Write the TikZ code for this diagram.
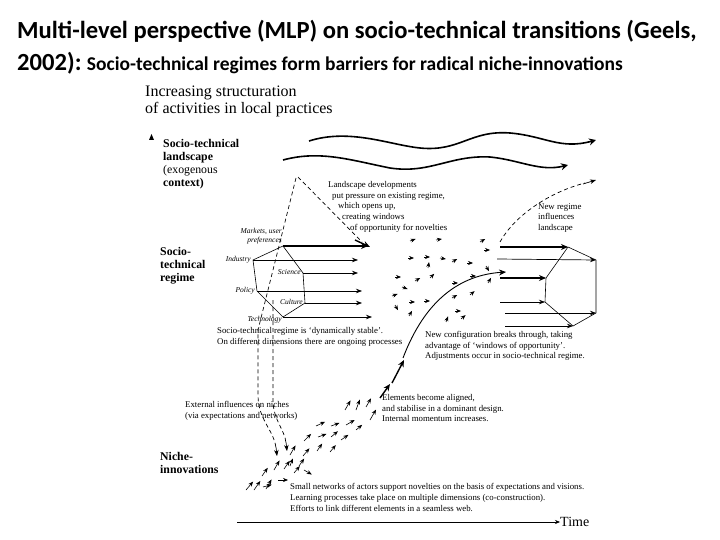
\documentclass[tikz,border=0pt]{standalone}
\usepackage{fontspec}
\setmainfont{Liberation Serif}
\newfontfamily\titlefont{Carlito}
\usetikzlibrary{arrows.meta,calc}
\begin{document}
\begin{tikzpicture}[x=1pt,y=-1pt,
  sm/.style={font=\fontsize{8.8}{10.8}\selectfont,align=left,anchor=north west,inner sep=0pt},
  lvl/.style={font=\fontsize{11.8}{13}\selectfont\bfseries,align=left,anchor=north west,inner sep=0pt},
  it/.style={font=\fontsize{7.5}{9}\selectfont\itshape,inner sep=0pt},
  arr/.style={-{Stealth[length=6pt,width=4.5pt]},line width=0.7pt},
  tarr/.style={-{Stealth[length=7pt,width=6pt]},line width=1.4pt},
  darr/.style={dashed,dash pattern=on 4pt off 3pt,line width=0.7pt},
  tiny/.style={-{Stealth[length=5pt,width=4pt]},line width=0.6pt}]
\useasboundingbox (0,0) rectangle (720,540);
% title
\node[anchor=west,inner sep=0pt,font=\titlefont\bfseries\fontsize{24.6}{28}\selectfont] (t1) at (17,31) {Multi-level perspective (MLP) on socio-technical transitions (Geels,};
\node[anchor=west,inner sep=0pt,font=\titlefont\bfseries\fontsize{24.6}{28}\selectfont] (t2) at (17,63) {2002):};
\node[anchor=base west,inner sep=0pt,font=\titlefont\bfseries\fontsize{19.5}{22}\selectfont] (t3) at ($(t2.base east)+(5,0)$) {Socio-technical regimes form barriers for radical niche-innovations};
% axis labels
\node[anchor=north west,inner sep=0pt,font=\fontsize{16}{16.5}\selectfont,align=left] (yl) at (145,86) {Increasing structuration\\of activities in local practices};
\fill (149,140) -- (151.5,134) -- (154,140) -- cycle;
\node[lvl] (land) at (163,139) {Socio-technical\\landscape\\{\mdseries(exogenous}\\context)};
\node[lvl] (reg) at (160,247) {Socio-\\technical\\regime};
\node[lvl] (niche) at (160,452) {Niche-\\innovations};
% waves
\draw[line width=1.6pt,-{Stealth[length=7pt,width=7pt]}] (309,141) .. controls (350,128) and (390,145) .. (420,148) .. controls (460,152) and (470,130) .. (510,133) .. controls (545,136) and (560,150) .. (596,140);
\draw[line width=1.6pt,-{Stealth[length=7pt,width=7pt]}] (283,160) .. controls (320,150) and (350,160) .. (390,168) .. controls (430,174) and (450,155) .. (490,157) .. controls (520,160) and (540,172) .. (568,165);
% landscape text
\node[sm] (ltx) at (328,181) {Landscape developments\\\hspace*{4pt}put pressure on existing regime,\\\hspace*{10pt}which opens up,\\\hspace*{14pt}creating windows\\\hspace*{22pt}of opportunity for novelties};
% dashed from landscape
\coordinate (apex) at (296,178);
\draw[darr] (apex) -- (258,330) -- (258,395) .. controls (258,420) and (274,430) .. (276,448);
\draw[arr] (276,447) -- (277,456);
\draw[darr] (273,300) -- (273,400) .. controls (273,420) and (285,430) .. (286,443);
\draw[arr] (286,442) -- (287,451);
\draw[darr] (298,177) -- (362,242);
\draw[tarr] (355,240) -- (370,247);
% left hexagon
\coordinate (m) at (283,246); \coordinate (i) at (253,260); \coordinate (s) at (303,273);
\coordinate (p) at (257,291); \coordinate (c) at (305,303); \coordinate (te) at (283,317);
\draw[line width=0.6pt] (m) -- (i) -- (p) -- (te) -- (c) -- (s) -- (m);
\draw[tarr] (m) -- (368,246);
\draw[arr] (i) -- (358,260);
\draw[arr] (s) -- (358,273);
\draw[arr] (p) -- (362,291);
\draw[arr] (c) -- (362,303);
\draw[arr] (te) -- (372,317);
\node[it,anchor=south east,align=right] at (282,244) {Markets, user\\preferences};
\node[it,anchor=east] at (251,260) {Industry};
\node[it,anchor=east] at (301,272) {Science};
\node[it,anchor=east] at (255,291) {Policy};
\node[it,anchor=east] at (303,302) {Culture};
\node[it,anchor=east] at (282,320) {Technology};
\node[sm] (stab) at (217,327) {Socio-technical regime is `dynamically stable'.\\On different dimensions there are ongoing processes};
% scattered arrows
\foreach \x/\y/\a in {410/241/20,436/240/10,408/258/0,424/257/0,440/258/-10,452/262/30,467/263/0,480/242/30,484/250/0,486/266/-60,
  395/277/0,415/281/30,430/278/45,452/283/0,470/276/0,488/283/60,392/296/20,409/302/0,424/301/0,452/298/30,470/295/40,
  395/305/-60,409/316/60,455/311/0,461/319/40,446/322/70,428/268/80,402/287/-20}
  \draw[tiny] (\x,\y) -- ++(-\a:6);
% right hexagon
\coordinate (r1) at (568,247); \coordinate (r2) at (596,260); \coordinate (r3) at (596,313);
\coordinate (r4) at (573,326); \coordinate (r5) at (545,302); \coordinate (r6) at (546,278);
\draw[line width=0.6pt] (r1) -- (r2) -- (r3) -- (r4) -- (r5) -- (r6) -- (r1);
\draw[tarr] (500,247) -- (r1);
\draw[arr] (497,259) -- (r2);
\draw[tarr] (500,278) -- (r6);
\draw[arr] (500,302) -- (r5);
\draw[arr] (505,313) -- (r3);
\draw[arr] (505,326) -- (r4);
% new regime dashed
\draw[darr] (500,242) .. controls (515,215) and (550,192) .. (585,183);
\draw[arr] (583,184) -- (596,180);
\node[sm] (nr) at (538,203) {New regime\\influences\\landscape};
% main curve
\draw[line width=0.9pt,-{Stealth[length=7pt,width=6pt]}] (403,358) .. controls (425,300) and (460,275) .. (506,272);
\draw[tarr] (392,383) -- (404,360);
\draw[tarr] (380,398) -- (390,384);
\node[sm] (nc) at (425,331) {New configuration breaks through, taking\\advantage of `windows of opportunity'.\\Adjustments occur in socio-technical regime.};
\node[sm] (ext) at (185,401) {External influences on niches\\(via expectations and networks)};
\node[sm] (al) at (382,394) {Elements become aligned,\\and stabilise in a dominant design.\\Internal momentum increases.};
% niche arrows
\foreach \x/\y/\a/\l in {246/490/50/11,254/490/55/11,266/489/60/11,263/487/15/9,278/480/0/10,262/476/55/10,274/470/60/11,284/469/55/10,
  294/473/50/9,299/466/55/9,304/470/-30/9,290/455/60/11,303/456/50/10,317/451/55/9,330/452/50/9,304/441/45/10,318/437/20/9,
  331/437/40/9,341/440/35/9,316/426/25/10,331/426/20/9,346/425/30/10,356/430/40/8,345/410/60/11,356/410/70/11,366/407/60/10,
  370/420/60/12,290/466/70/8}
  \draw[tiny] (\x,\y) -- ++(-\a:\l);
\node[sm] (sn) at (290,483) {Small networks of actors support novelties on the basis of expectations and visions.\\Learning processes take place on multiple dimensions (co-construction).\\Efforts to link different elements in a seamless web.};
% time axis
\coordinate (t0) at (237,522);
\node[anchor=west,inner sep=0pt,font=\fontsize{14}{16}\selectfont] (time) at (560,522) {Time};
\draw[-{Stealth[length=5pt,width=4pt]},line width=0.6pt] (t0) -- (time.west);
\end{tikzpicture}
\end{document}
